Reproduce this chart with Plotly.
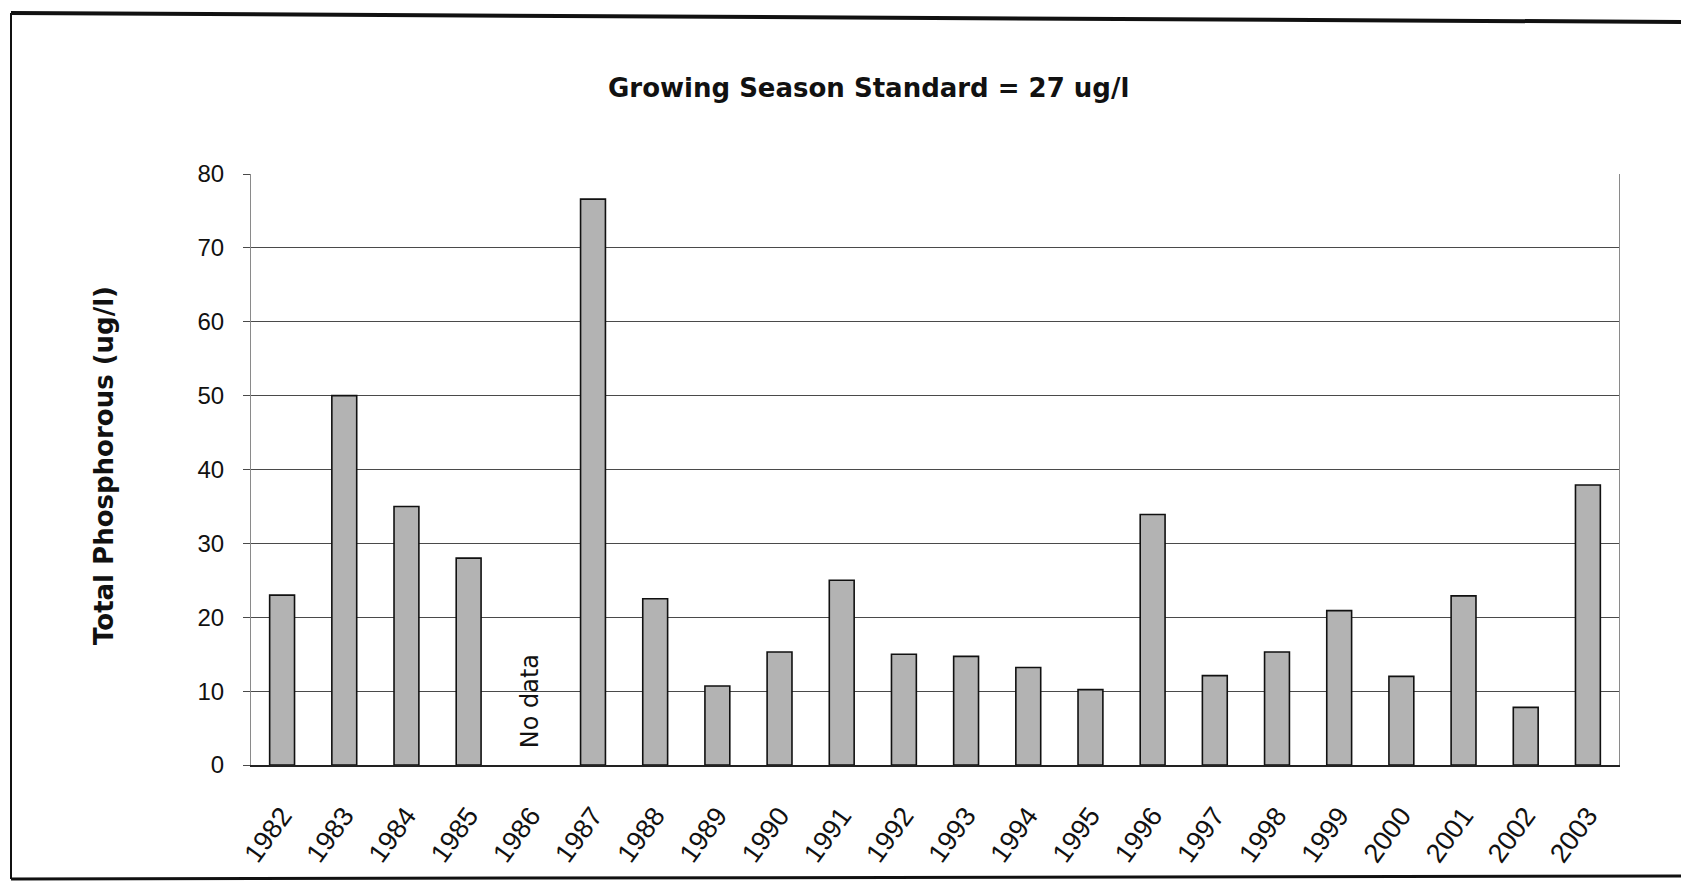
import plotly.graph_objects as go

years = [str(y) for y in range(1982, 2004)]
phosphorus = [23, 50, 35, 28, None, 76.6, 22.5, 10.7, 15.3, 25, 15, 14.7, 13.2,
              10.2, 33.9, 12.1, 15.3, 20.9, 12, 22.9, 7.8, 37.9]
y_ticks = [0, 10, 20, 30, 40, 50, 60, 70, 80]
title_text = "Growing Season Standard = 27 ug/l"
y_title = "Total Phosphorous (ug/l)"
no_data_year = "1986"
no_data_label = "No data"

# the page body adds an 8px margin; lay out in screen pixels and compensate
OFF = 8
SW, SH = 1689, 884
W, H = SW - OFF, SH - OFF
plot_left, plot_right, plot_top, plot_bottom = 251, 1619, 174, 765  # screen px
L = plot_left - OFF
R = W - (plot_right - OFF)
T = plot_top - OFF
B = H - (plot_bottom - OFF)
PW, PH = W - L - R, H - T - B


def px(x):
    return (x - OFF - L) / PW


def py(y):
    return (H - B - (y - OFF)) / PH


FONT = "Liberation Sans, Arial, sans-serif"
nd = years.index(no_data_year)

fig = go.Figure()
fig.add_trace(go.Bar(
    x=years, y=phosphorus,
    marker=dict(color="#b3b3b3", line=dict(color="#111111", width=1.6)),
    width=0.4,
))

fig.update_layout(
    width=W, height=H,
    margin=dict(l=L, r=R, t=T, b=B),
    paper_bgcolor="white", plot_bgcolor="white",
    showlegend=False,
    font=dict(family=FONT, color="#111111"),
    xaxis=dict(
        type="category", categoryorder="array", categoryarray=years,
        range=[-0.5, len(years) - 0.5], autorange=False,
        tickangle=-54,
        tickfont=dict(size=27, family=FONT),
        showline=True, linecolor="#222222", linewidth=2,
        showgrid=False, ticks="", ticklabelstandoff=22,
    ),
    yaxis=dict(
        range=[0, 80], autorange=False, tickvals=y_ticks,
        tickfont=dict(size=24, family=FONT),
        showgrid=True, gridcolor="#4a4a4a", gridwidth=1.2,
        showline=True, linecolor="#8a8a8a", linewidth=1, mirror=True,
        ticks="outside", ticklen=7, tickcolor="#4a4a4a", tickwidth=1.2,
        zeroline=False, ticklabelstandoff=14,
    ),
)

# white box behind the "No data" label (covers gridlines)
fig.add_shape(type="rect", xref="x", yref="y", x0=nd - 0.62, x1=nd + 0.6, y0=0.3, y1=24,
              fillcolor="white", line=dict(width=0), layer="below")

fig.add_annotation(x=nd, y=8.6, xref="x", yref="y", text=no_data_label,
                   textangle=-90, showarrow=False,
                   font=dict(size=24, family="DejaVu Sans, sans-serif", color="#111111"))

fig.add_annotation(x=px(868), y=py(88), xref="paper", yref="paper", text=f"<b>{title_text}</b>",
                   showarrow=False, xanchor="center", yanchor="middle",
                   font=dict(size=26, family="DejaVu Sans, sans-serif", color="#111111"))

fig.add_annotation(x=px(104), y=py(466), xref="paper", yref="paper", text=f"<b>{y_title}</b>",
                   textangle=-90, showarrow=False, xanchor="center", yanchor="middle",
                   font=dict(size=26, family="DejaVu Sans, sans-serif", color="#111111"))

# outer frame of the scanned chart
fig.add_shape(type="line", xref="paper", yref="paper", x0=px(11), y0=py(13), x1=px(SW), y1=py(22),
              line=dict(color="#111111", width=4))
fig.add_shape(type="line", xref="paper", yref="paper", x0=px(11), y0=py(13), x1=px(11), y1=py(879),
              line=dict(color="#111111", width=2))
fig.add_shape(type="line", xref="paper", yref="paper", x0=px(11), y0=py(879), x1=px(SW), y1=py(876),
              line=dict(color="#111111", width=3))

fig.write_html("out.html")
